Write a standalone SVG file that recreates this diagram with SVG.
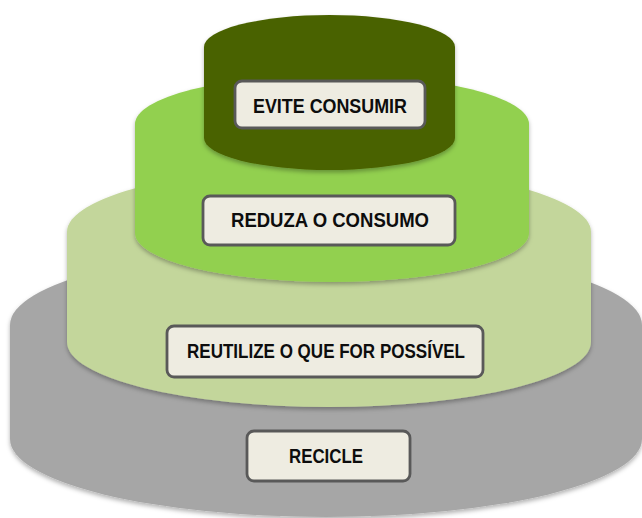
<svg xmlns="http://www.w3.org/2000/svg" width="642" height="518" viewBox="0 0 642 518">
<defs>
<filter id="sh" x="-5%" y="-5%" width="110%" height="115%">
<feDropShadow dx="0" dy="2.5" stdDeviation="2" flood-color="#000" flood-opacity="0.3"/>
</filter>
<style>
.lbl{fill:#EEECE1;stroke:#595959;stroke-width:2.8}
.t{font-family:"Liberation Sans",Arial,sans-serif;font-weight:bold;font-size:20px;fill:#0d0d0d}
</style>
</defs>
<rect width="642" height="518" fill="#ffffff"/>
<g id="tier-recicle">
<path filter="url(#sh)" fill="#A6A6A6" d="M10,325 A316,78 0 0 1 642,325 V439 A316,78 0 0 1 10,439 Z"/>
<rect class="lbl" x="247" y="431" width="163" height="50" rx="7"/>
<text class="t" x="326" y="463" text-anchor="middle" textLength="74" lengthAdjust="spacingAndGlyphs">RECICLE</text>
</g>
<g id="tier-reutilize">
<path filter="url(#sh)" fill="#C3D69B" d="M67,232 A262,65 0 0 1 591,232 V342 A262,65 0 0 1 67,342 Z"/>
<rect class="lbl" x="167" y="326" width="316" height="51" rx="7"/>
<text class="t" x="326" y="358" text-anchor="middle" textLength="278" lengthAdjust="spacingAndGlyphs">REUTILIZE O QUE FOR POSSÍVEL</text>
</g>
<g id="tier-reduza">
<path filter="url(#sh)" fill="#92D050" d="M135,124 A197,49 0 0 1 529,124 V233 A197,49 0 0 1 135,233 Z"/>
<rect class="lbl" x="203" y="196" width="252" height="49" rx="7"/>
<text class="t" x="330" y="227" text-anchor="middle" textLength="198" lengthAdjust="spacingAndGlyphs">REDUZA O CONSUMO</text>
</g>
<g id="tier-evite">
<path filter="url(#sh)" fill="#4A6200" d="M204,47 A125.5,32 0 0 1 455,47 V138 A125.5,32 0 0 1 204,138 Z"/>
<rect class="lbl" x="235" y="81" width="190" height="47" rx="7"/>
<text class="t" x="330" y="113" text-anchor="middle" textLength="154" lengthAdjust="spacingAndGlyphs">EVITE CONSUMIR</text>
</g>
<g id="connectors"/>
</svg>
